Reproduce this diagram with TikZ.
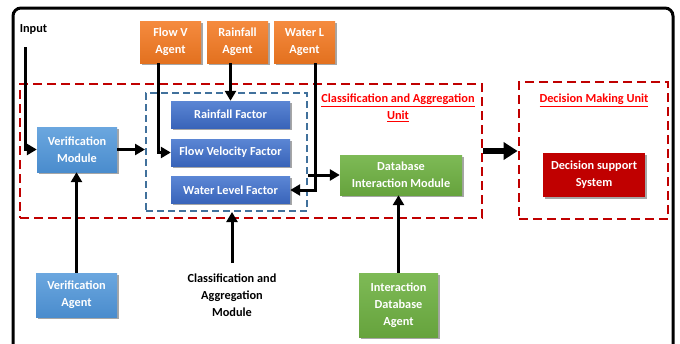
\documentclass[tikz,border=0pt]{standalone}
\usepackage{fontspec}
\setmainfont{Carlito}
\usetikzlibrary{arrows.meta,shadows}
\definecolor{lblueT}{HTML}{6BA7DF}
\definecolor{lblueB}{HTML}{4A8CCD}
\definecolor{dblueT}{HTML}{5B86D4}
\definecolor{dblueB}{HTML}{3964B9}
\definecolor{orT}{HTML}{F58B3F}
\definecolor{orB}{HTML}{E3711F}
\definecolor{grT}{HTML}{7EBA56}
\definecolor{grB}{HTML}{66A33D}
\definecolor{dred}{HTML}{C00000}
\definecolor{dashblue}{HTML}{41719C}
\begin{document}
\begin{tikzpicture}[x=1pt,y=-1pt,
  every node/.style={font=\fontsize{12.3}{16.8}\selectfont\bfseries, align=center, inner sep=0pt},
  box/.style={text=white, drop shadow={shadow xshift=1.5pt, shadow yshift=-1.8pt, opacity=0.35, fill=black}},
  lbox/.style={box, top color=lblueT, bottom color=lblueB},
  dbox/.style={box, top color=dblueT, bottom color=dblueB},
  obox/.style={box, top color=orT, bottom color=orB},
  gbox/.style={box, top color=grT, bottom color=grB},
  rbox/.style={box, fill=dred},
  arr/.style={line width=3pt, -{Triangle[length=10pt,width=11pt]}},
  bigarr/.style={line width=6pt, -{Triangle[length=14pt,width=17pt]}},
  reddash/.style={draw=dred, line width=2.8pt, dash pattern=on 9pt off 5pt},
  bluedash/.style={draw=dashblue, line width=2pt, dash pattern=on 7pt off 4pt},
  title/.style={text=red}
]
\useasboundingbox (0,0) rectangle (680,343);
\fill[white] (0,0) rectangle (680,343);
% outer frame
\draw[line width=3pt, rounded corners=8pt] (13,360) -- (13,8) -- (673,8) -- (673,360);

% dashed containers
\node[reddash, minimum width=462pt, minimum height=134pt] (cau) at (251,151) {};
\node[reddash, minimum width=149pt, minimum height=137pt] (dmu) at (593.5,150.5) {};
\node[bluedash, minimum width=161pt, minimum height=118pt] (cam) at (226.5,152) {};

\node[title] (cautitle) at (398,108) {\underline{Classification and Aggregation}\\\underline{Unit}};
\node[title] (dmutitle) at (594,100) {\underline{Decision Making Unit}};

% boxes
\node[lbox, minimum width=80pt, minimum height=45pt] (vm) at (77,149.5) {Verification\\Module};
\node[dbox, minimum width=119pt, minimum height=27pt] (rf) at (230.5,114.5) {Rainfall Factor};
\node[dbox, minimum width=119pt, minimum height=27pt] (fvf) at (230.5,152.5) {Flow Velocity Factor};
\node[dbox, minimum width=119pt, minimum height=27pt] (wlf) at (230.5,190) {Water Level Factor};
\node[obox, minimum width=61pt, minimum height=42pt] (fva) at (170.5,42) {Flow V\\Agent};
\node[obox, minimum width=61pt, minimum height=42pt] (rfa) at (237.5,42) {Rainfall\\Agent};
\node[obox, minimum width=61pt, minimum height=42pt] (wla) at (304.5,42) {Water L\\Agent};
\node[gbox, minimum width=122pt, minimum height=40pt] (db) at (401,175) {Database\\Interaction Module};
\node[rbox, minimum width=102pt, minimum height=44pt] (dss) at (594,175) {Decision support\\System};
\node[lbox, minimum width=81pt, minimum height=44pt] (va) at (76.5,295) {Verification\\Agent};
\node[gbox, minimum width=79pt, minimum height=64pt] (ida) at (398.5,305) {Interaction\\Database\\Agent};
\node (camtxt) at (232,295.5) {Classification and\\Aggregation\\Module};
\node (input) at (33.5,29) {Input};

% connectors
\coordinate (inp) at (25,47);
\draw[arr] (inp) |- (vm.west);
\draw[arr] (vm.east) -- (vm.east -| cam.west);
\draw[arr] ([xshift=-12.5pt]fva.south) |- (fvf.west);
\draw[arr] (rfa.south -| rf.north) -- (rf.north);
\draw[arr] ([xshift=11pt]wla.south) |- (wlf.east);
\draw[arr] (cam.east |- db.west) -- (db.west);
\draw[bigarr] (cau.east) -- (cau.east -| dmu.west);
\draw[arr] (va.north) -- (va.north |- vm.south);
\coordinate (camtop) at (232,263);
\draw[arr] (camtop) -- (camtop |- cam.south);
\draw[arr] (ida.north) -- (ida.north |- db.south);
\end{tikzpicture}
\end{document}
